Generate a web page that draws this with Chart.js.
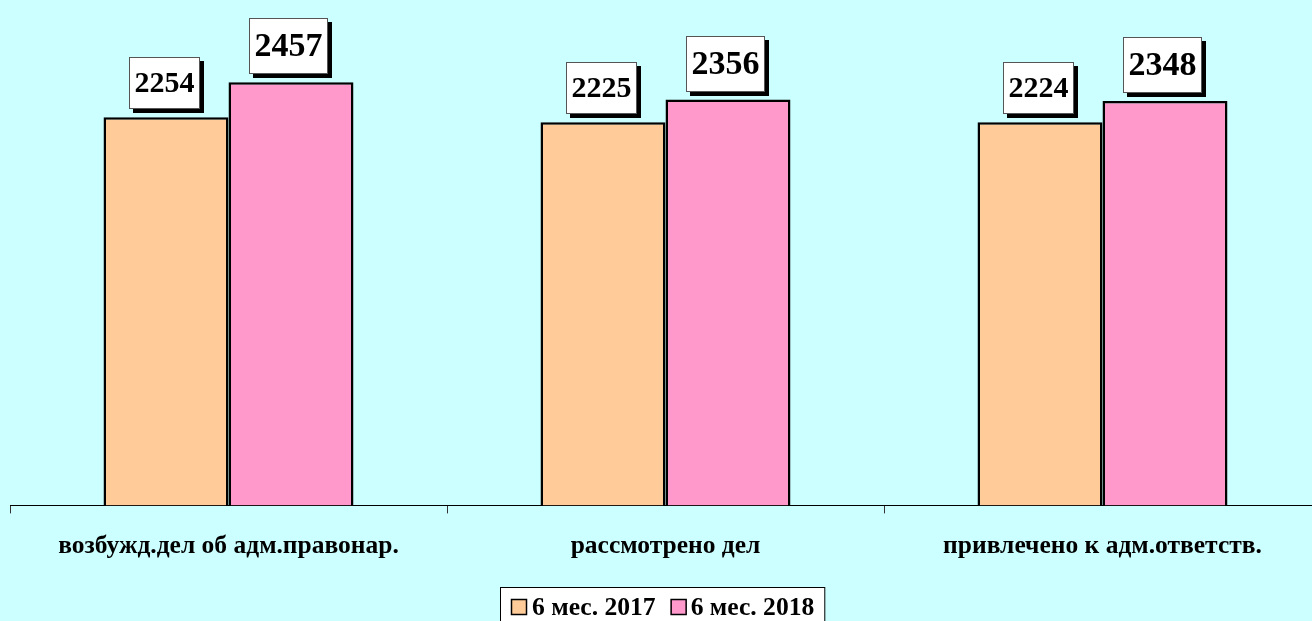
<!DOCTYPE html>
<html lang="ru">
<head>
    <meta charset="UTF-8">
    <title>Административная практика</title>
    <script src="https://cdn.jsdelivr.net/npm/chart.js"></script>
    <style>
        body { margin: 0; background: #CCFFFF; overflow: hidden; }
        #wrap { position: relative; width: 1322px; height: 621px; }
    </style>
</head>
<body>
    <div id="wrap">
        <canvas id="chartAdm"></canvas>
    </div>

    <script>
        // данные с картинки
        const categories = ['возбужд.дел об адм.правонар.', 'рассмотрено дел', 'привлечено к адм.ответств.'];
        const seriesNames = ['6 мес. 2017', '6 мес. 2018'];
        const values2017 = [2254, 2225, 2224];
        const values2018 = [2457, 2356, 2348];
        const seriesColors = ['#FFCC99', '#FF99CC'];
        const labelFontSizes = [30, 34];

        const serif = "'Liberation Serif', 'Times New Roman', serif";

        // подписи значений в белых рамках с тенью
        const valueBoxes = {
            id: 'valueBoxes',
            afterDatasetsDraw(chart) {
                const ctx = chart.ctx;
                chart.data.datasets.forEach((ds, di) => {
                    const meta = chart.getDatasetMeta(di);
                    const size = labelFontSizes[di];
                    ctx.save();
                    ctx.font = 'bold ' + size + 'px ' + serif;
                    meta.data.forEach((bar, i) => {
                        const txt = String(ds.data[i]);
                        const w = ctx.measureText(txt).width + 11;
                        const h = size + 22;
                        const cx = bar.x - 2;
                        const bottom = bar.y - 8;
                        const left = Math.round(cx - w / 2);
                        const top = Math.round(bottom - h);
                        ctx.fillStyle = '#000';
                        ctx.fillRect(left + 4, top + 4, w, h);
                        ctx.fillStyle = '#fff';
                        ctx.fillRect(left, top, w, h);
                        ctx.strokeStyle = '#555';
                        ctx.lineWidth = 1;
                        ctx.strokeRect(left + 0.5, top + 0.5, w - 1, h - 1);
                        ctx.fillStyle = '#000';
                        ctx.textAlign = 'center';
                        ctx.textBaseline = 'middle';
                        ctx.fillText(txt, left + w / 2, top + h / 2 + 1);
                    });
                    ctx.restore();
                });
            }
        };

        // легенда в рамке внизу
        const boxedLegend = {
            id: 'boxedLegend',
            afterDraw(chart) {
                const ctx = chart.ctx;
                const sq = 16;
                ctx.save();
                ctx.font = 'bold 25.6px ' + serif;
                const widths = chart.data.datasets.map(ds => ctx.measureText(ds.label).width);
                const total = 11 + sq + 5 + widths[0] + 15 + sq + 4 + widths[1] + 10;
                const mid = (chart.chartArea.left + chart.chartArea.right) / 2 - 3;
                const left = Math.round(mid - total / 2);
                const top = 587;
                ctx.fillStyle = '#fff';
                ctx.fillRect(left, top, total, 45);
                ctx.strokeStyle = '#000';
                ctx.lineWidth = 1;
                ctx.strokeRect(left + 0.5, top + 0.5, total, 45);
                let x = left + 11;
                chart.data.datasets.forEach((ds, i) => {
                    ctx.fillStyle = ds.backgroundColor;
                    ctx.fillRect(x, 599, sq, sq);
                    ctx.strokeStyle = '#000';
                    ctx.lineWidth = 1.5;
                    ctx.strokeRect(x + 0.5, 599.5, sq - 1, sq - 1);
                    x += sq + (i === 0 ? 5 : 4);
                    ctx.fillStyle = '#000';
                    ctx.textAlign = 'left';
                    ctx.textBaseline = 'alphabetic';
                    ctx.fillText(ds.label, x, 615);
                    x += widths[i] + 15;
                });
                ctx.restore();
            }
        };

        new Chart(document.getElementById('chartAdm').getContext('2d'), {
            type: 'bar',
            data: {
                labels: categories,
                datasets: [
                    {
                        label: seriesNames[0],
                        data: values2017,
                        backgroundColor: seriesColors[0],
                        borderColor: '#000',
                        borderWidth: 2.5,
                        categoryPercentage: 0.572,
                        barPercentage: 1.0
                    },
                    {
                        label: seriesNames[1],
                        data: values2018,
                        backgroundColor: seriesColors[1],
                        borderColor: '#000',
                        borderWidth: 2.5,
                        categoryPercentage: 0.572,
                        barPercentage: 1.0
                    }
                ]
            },
            options: {
                responsive: true,
                maintainAspectRatio: false,
                animation: false,
                layout: { padding: { left: 10, right: 1, top: 5, bottom: 41 } },
                plugins: {
                    legend: { display: false },
                    tooltip: { enabled: false }
                },
                scales: {
                    x: {
                        offset: true,
                        border: { display: true, color: '#000', width: 1 },
                        grid: {
                            display: true,
                            offset: true,
                            drawOnChartArea: false,
                            drawTicks: true,
                            tickLength: 8,
                            color: '#333'
                        },
                        ticks: {
                            color: '#000',
                            padding: 18,
                            maxRotation: 0,
                            autoSkip: false,
                            font: { family: serif, size: 25.5, weight: 'bold' }
                        }
                    },
                    y: {
                        display: false,
                        min: 0,
                        max: 2905
                    }
                }
            },
            plugins: [valueBoxes, boxedLegend]
        });
    </script>
</body>
</html>
